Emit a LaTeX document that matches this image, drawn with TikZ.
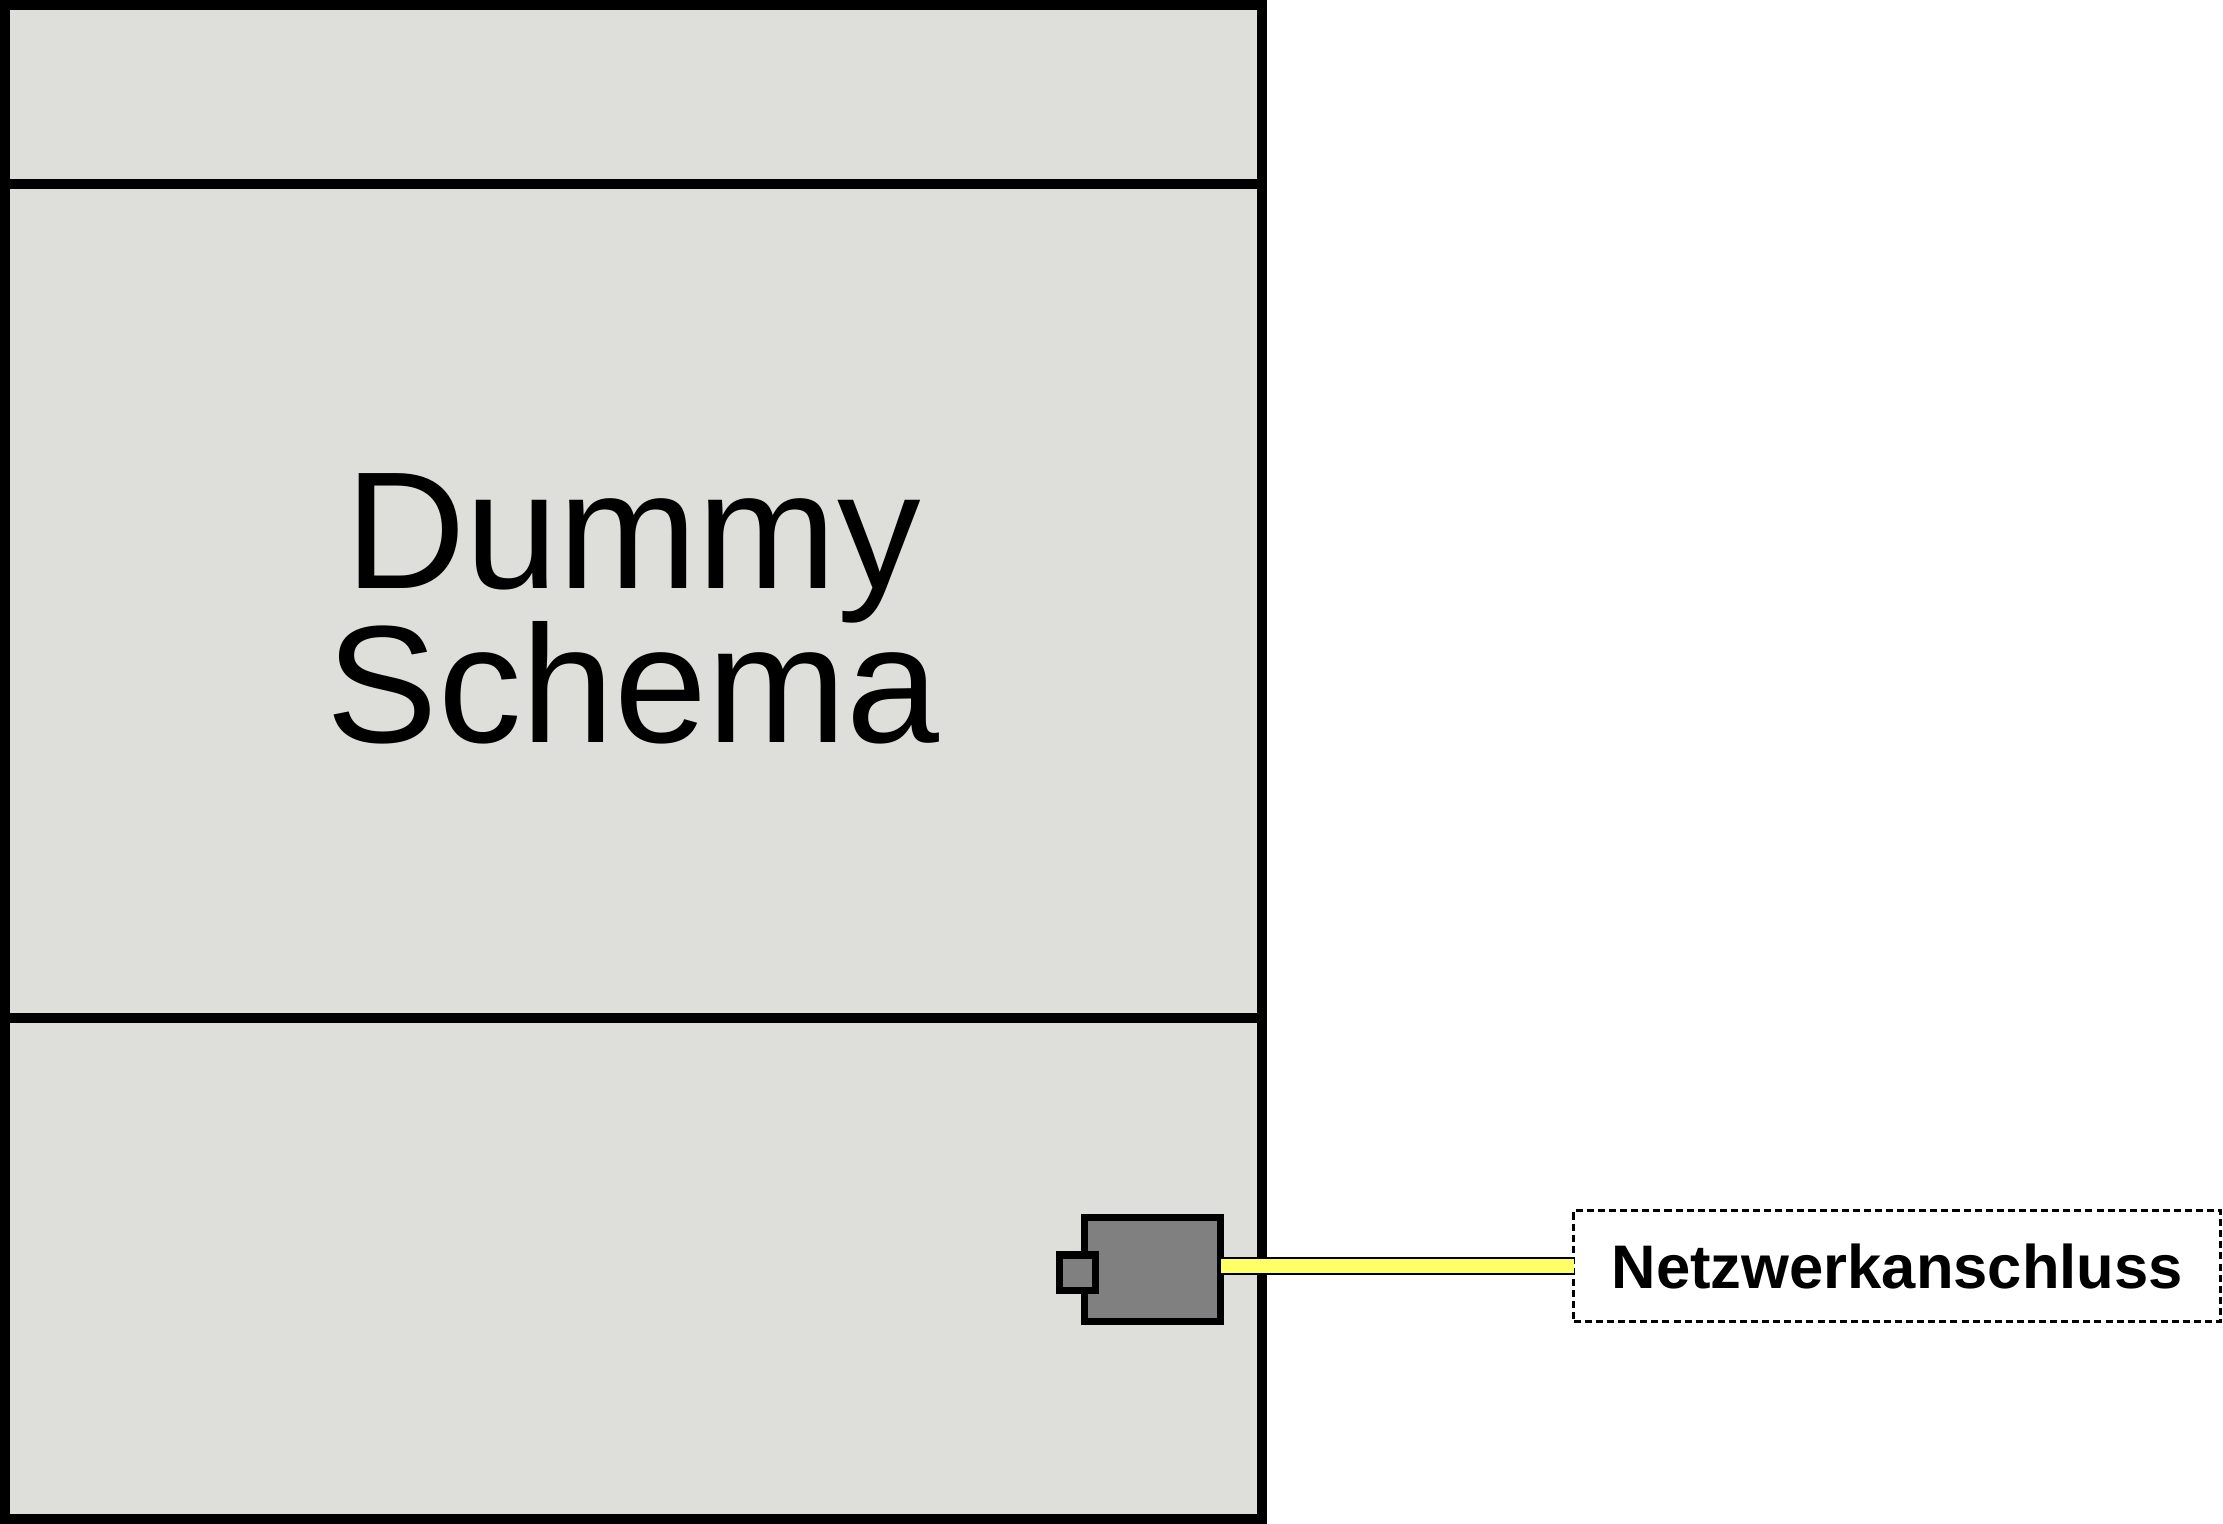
\documentclass[tikz,border=0pt]{standalone}
\usepackage{fontspec}
\setmainfont{Liberation Sans}
\definecolor{panel}{RGB}{222,223,218}
\definecolor{devgray}{RGB}{128,128,128}
\definecolor{cableyellow}{RGB}{255,255,102}
\begin{document}
\begin{tikzpicture}[x=0.01cm,y=-0.01cm,
        frame/.style={draw,line width=2.85pt},
        part/.style={draw,rectangle,line width=2pt,fill=devgray,inner sep=0pt,outer sep=0pt},
        cable/.style={draw=black,line width=0.45pt,double=cableyellow,double distance=4.2pt}]
        \useasboundingbox (0,0) rectangle (2223,1524);

        \path [frame,fill=panel] (5,5) rectangle (1262,1519);
        \path [frame] (5,184) -- (1262,184);
        \path [frame] (5,1018) -- (1262,1018);

        \node[anchor=base,font=\fontsize{47.5}{43}\selectfont] (dummy) at (633,588){Dummy};
        \node[anchor=base,font=\fontsize{47.5}{43}\selectfont] (schema) at (633,742){Schema};

        \node[part,minimum width=1.36cm,minimum height=1.04cm] (device) at (1152.5,1269.5){};
        \node[part,minimum width=0.355cm,minimum height=0.35cm] (port) at (1077.25,1272.5){};
        \node[draw,dash pattern=on 2pt off 1.15pt,line width=0.95pt,inner sep=0pt,outer sep=0pt,
            minimum width=6.465cm,minimum height=1.11cm,font=\bfseries\fontsize{17.5}{20}\selectfont]
            (anschluss) at (1897.25,1266){Netzwerkanschluss};

        \path [cable] (anschluss.west) to (anschluss.west -| device.east);
    \end{tikzpicture}
\end{document}
